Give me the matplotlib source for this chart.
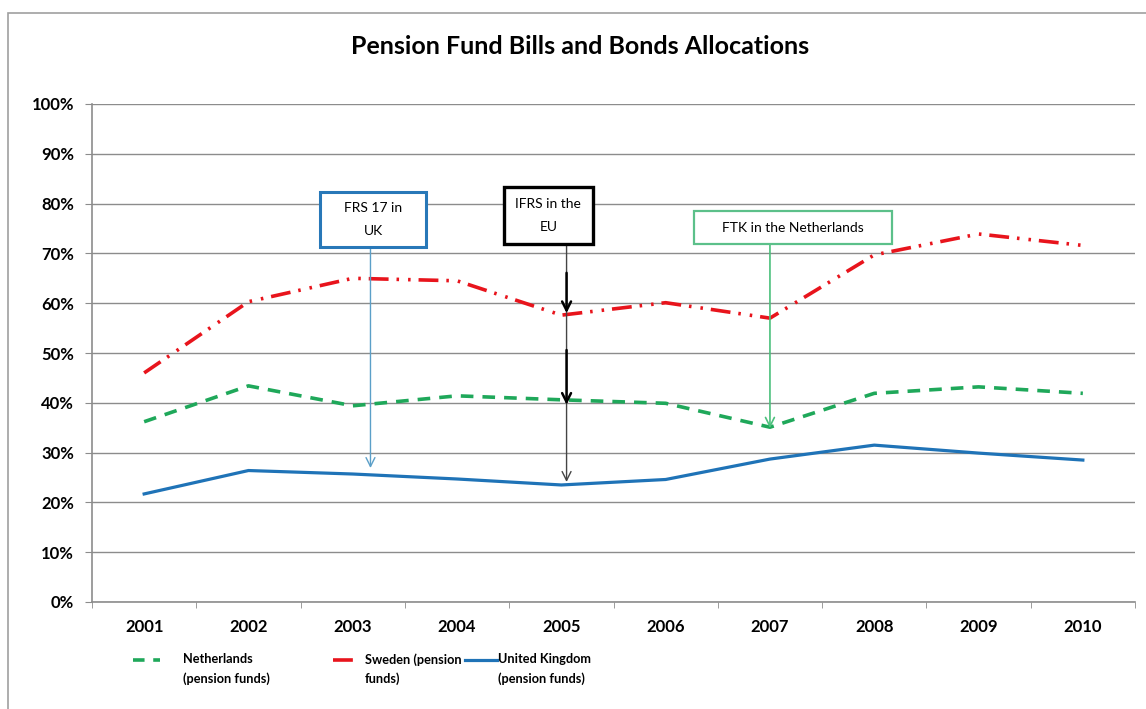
import matplotlib.pyplot as plt
from matplotlib.lines import Line2D
from matplotlib.patches import Rectangle
import numpy as np

years = ['2001', '2002', '2003', '2004', '2005', '2006', '2007', '2008', '2009', '2010']
netherlands = [36.2, 43.4, 39.4, 41.4, 40.6, 39.9, 35.1, 41.9, 43.2, 41.9]
sweden = [46.0, 60.3, 65.0, 64.5, 57.6, 60.1, 57.0, 69.7, 73.9, 71.6]
uk = [21.7, 26.4, 25.7, 24.7, 23.5, 24.6, 28.7, 31.5, 29.9, 28.5]

plt.rcParams['font.family'] = ['Lato', 'DejaVu Sans']

GRID = '#8c8c8c'
C_NL = '#1fa85a'
C_SE = '#e8141c'
C_UK = '#1f73b7'
LS_NL = (0, (3.5, 2.5))
LS_SE = (0, (5.5, 2.2, 0.7, 2.5, 0.7, 2.2))

fig = plt.figure(figsize=(11.46, 7.09), dpi=100)
# outer chart frame (right / bottom run off the picture)
fig.patches.append(Rectangle((8 / 1146, -0.1), 1.2, 1 - 13 / 709 + 0.1,
                             transform=fig.transFigure, fill=False,
                             edgecolor='#a0a0a0', lw=1.2))

ax = fig.add_axes([92 / 1146, 107 / 709, (1135 - 92) / 1146, (602 - 104) / 709])
x = np.arange(len(years))

ax.plot(x, netherlands, color=C_NL, lw=2.6, ls=LS_NL, zorder=3)
ax.plot(x, sweden, color=C_SE, lw=2.6, ls=LS_SE, zorder=3)
ax.plot(x, uk, color=C_UK, lw=2.3, zorder=3)

ax.set_xlim(-0.5, 9.5)
ax.set_ylim(0, 100)
ax.set_yticks(range(0, 101, 10))
ax.set_yticklabels([f'{v}%' for v in range(0, 101, 10)], fontsize=12, fontweight='bold')
ax.set_xticks(x)
ax.set_xticklabels(years, fontsize=12, fontweight='bold')
ax.set_xticks(np.arange(-0.5, 10, 1), minor=True)
ax.tick_params(axis='x', which='major', length=0, pad=12)
ax.tick_params(axis='x', which='minor', length=4, color=GRID, direction='out')
ax.tick_params(axis='y', length=5, color=GRID, pad=8)
ax.grid(axis='y', color=GRID, lw=1)
ax.set_axisbelow(True)
for s in ['top', 'right']:
    ax.spines[s].set_visible(False)
for s in ['left', 'bottom']:
    ax.spines[s].set_color(GRID)
    ax.spines[s].set_linewidth(1.2)

fig.text(580 / 1146, 1 - 46 / 709, 'Pension Fund Bills and Bonds Allocations',
         ha='center', va='center', fontsize=18, fontweight='bold')

# annotation boxes: (x0, x1, y0, y1) in data units, text, edge colour, lw
boxes = [
    ((1.69, 2.70, 71.3, 82.3), 'FRS 17 in\nUK', '#2878b8', 2.2),
    ((3.45, 4.30, 71.9, 83.3), 'IFRS in the\nEU', 'black', 2.4),
    ((5.27, 7.17, 71.9, 78.5), 'FTK in the Netherlands', '#5cc08a', 1.6),
]
for (x0, x1, y0, y1), label, ec, lw in boxes:
    ax.add_patch(Rectangle((x0, y0), x1 - x0, y1 - y0, facecolor='white',
                           edgecolor=ec, lw=lw, zorder=5))
    ax.text((x0 + x1) / 2, (y0 + y1) / 2, label, ha='center', va='center',
            fontsize=10, linespacing=2.1, zorder=6)

# arrows: x, y_start, y_end, colour, width
arrows = [
    (2.17, 71.3, 26.9, '#5b9fc8', 1.0),
    (4.05, 71.9, 24.1, '#444444', 1.0),
    (4.05, 66.1, 58.0, 'black', 1.8),
    (4.05, 50.6, 39.6, 'black', 1.8),
    (6.00, 71.9, 34.9, '#4cc07c', 1.2),
]
for ax_x, y0, y1, col, w in arrows:
    ax.annotate('', xy=(ax_x, y1), xytext=(ax_x, y0),
                arrowprops=dict(arrowstyle='->', color=col, lw=w,
                                mutation_scale=16, shrinkA=0, shrinkB=0),
                zorder=4)

# legend: sample line next to first text line, label on two lines
legend = [
    ('Netherlands\n(pension funds)', C_NL, 2.6, (0, (3.2, 2.4)), 133, 160, 183),
    ('Sweden (pension\nfunds)', C_SE, 2.6, LS_SE, 333, 360, 365),
    ('United Kingdom\n(pension funds)', C_UK, 2.3, '-', 465, 497, 498),
]
for label, col, lw, ls, h0, h1, tx in legend:
    fig.add_artist(Line2D([h0 / 1146, h1 / 1146], [1 - 660 / 709] * 2, color=col,
                          lw=lw, ls=ls, transform=fig.transFigure))
    fig.text(tx / 1146, 1 - 653 / 709, label, ha='left', va='top',
             fontsize=9.2, fontweight='bold', linespacing=1.65)

fig.savefig('out.png', dpi=100)
